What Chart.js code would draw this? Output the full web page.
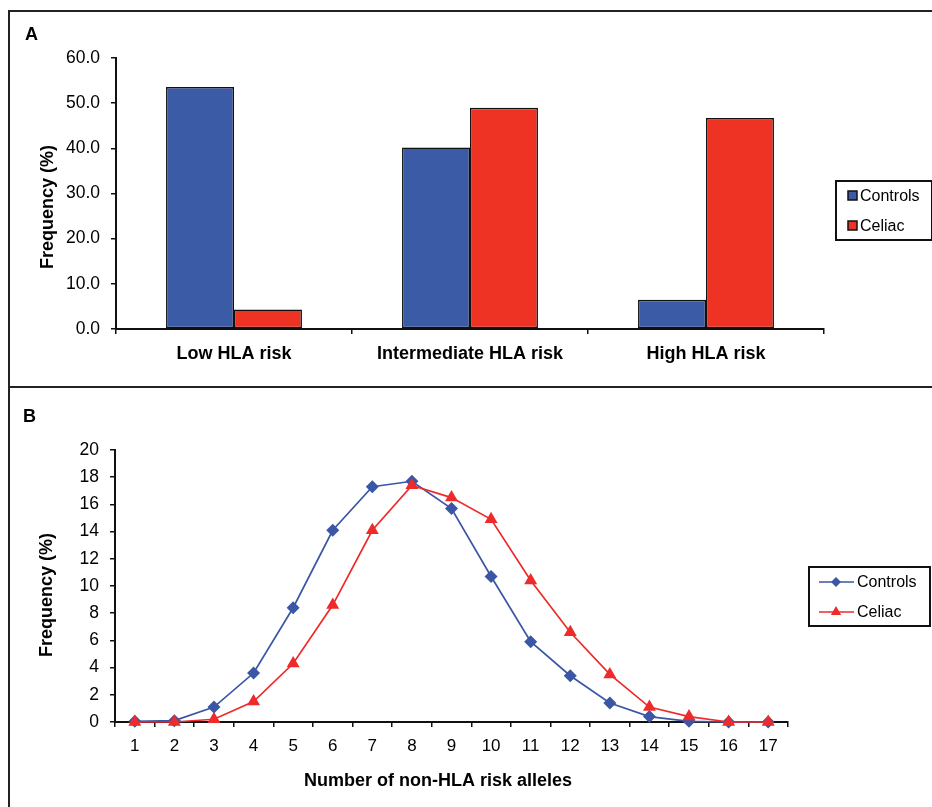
<!DOCTYPE html>
<html>
<head>
<meta charset="utf-8">
<title>HLA and non-HLA risk</title>
<script src="https://cdn.jsdelivr.net/npm/chart.js@4.4.1/dist/chart.umd.min.js"></script>
<style>
  body { margin: 0; background: #fff; }
  #page { position: relative; width: 932px; height: 807px; overflow: hidden; }
  .rule { position: absolute; background: #222; }
  canvas { position: absolute; left: 0; }
</style>
</head>
<body>
<div id="page">
  <div class="rule" style="left:8px; top:10px; width:924px; height:2px;"></div>
  <div class="rule" style="left:8px; top:10px; width:2px; height:797px;"></div>
  <div class="rule" style="left:8px; top:386px; width:924px; height:2px;"></div>
  <canvas id="chartA" width="932" height="386" style="top:0"></canvas>
  <canvas id="chartB" width="932" height="419" style="top:388px"></canvas>
</div>
<script>
// ── Data ──────────────────────────────────────────────────────
const hlaGroups      = ['Low HLA risk', 'Intermediate HLA risk', 'High HLA risk'];
const hlaControls    = [53.6, 40.2, 6.5];
const hlaCeliac      = [4.3, 49.0, 46.7];

const alleleCounts   = ['1','2','3','4','5','6','7','8','9','10','11','12','13','14','15','16','17'];
const alleleControls = [0.05, 0.1, 1.1, 3.6, 8.4, 14.1, 17.3, 17.7, 15.7, 10.7, 5.9, 3.4, 1.4, 0.4, 0.05, 0, 0];
const alleleCeliac   = [0, 0, 0.2, 1.5, 4.3, 8.6, 14.1, 17.4, 16.5, 14.9, 10.4, 6.6, 3.5, 1.1, 0.4, 0, 0];

const BLUE = '#3c5ba6';
const RED  = '#ee3224';
const INK  = '#111';
const FONT = '"Liberation Sans", Arial, sans-serif';

// ── Captions + boxed legend (drawn on the canvas) ─────────────
const decorPlugin = {
    id: 'decor',
    afterDraw(chart, args, opts) {
        const ctx = chart.ctx;
        ctx.save();
        ctx.fillStyle = '#000';
        (opts.captions || []).forEach(c => {
            ctx.save();
            ctx.font = c.font;
            ctx.translate(c.x, c.y);
            if (c.rotate) ctx.rotate(c.rotate);
            ctx.textAlign = c.align || 'left';
            ctx.textBaseline = c.baseline || 'alphabetic';
            ctx.fillText(c.text, 0, 0);
            ctx.restore();
        });

        const lg = opts.legend;
        if (lg) {
            ctx.lineWidth = 2;
            ctx.strokeStyle = INK;
            ctx.strokeRect(lg.x, lg.y, lg.w, lg.h);
            ctx.font = '16px ' + FONT;
            ctx.textBaseline = 'middle';
            ctx.textAlign = 'left';
            chart.data.datasets.forEach((ds, i) => {
                const ry = lg.rows[i];
                if (lg.kind === 'bar') {
                    ctx.fillStyle = ds.backgroundColor;
                    ctx.fillRect(lg.x + 12, ry - 5, 9, 9);
                    ctx.lineWidth = 1.5;
                    ctx.strokeStyle = INK;
                    ctx.strokeRect(lg.x + 12, ry - 5, 9, 9);
                } else {
                    ctx.strokeStyle = ds.borderColor;
                    ctx.lineWidth = ds.borderWidth;
                    ctx.beginPath();
                    ctx.moveTo(lg.x + 10, ry);
                    ctx.lineTo(lg.x + 45, ry);
                    ctx.stroke();
                    ctx.fillStyle = ds.pointBackgroundColor;
                    ctx.strokeStyle = ds.pointBackgroundColor;
                    Chart.helpers.drawPoint(ctx, {
                        pointStyle: ds.pointStyle, radius: ds.pointRadius - 1.5, rotation: 0, borderWidth: 0
                    }, lg.x + 27, ry);
                }
                ctx.fillStyle = '#000';
                ctx.fillText(ds.label, lg.textX, ry + 1);
            });
        }
        ctx.restore();
    }
};

function axisGrid() {
    return { drawOnChartArea: false, drawTicks: true, tickLength: 5, color: INK, lineWidth: 1.5 };
}

// ── Panel A: grouped bars ─────────────────────────────────────
new Chart(document.getElementById('chartA'), {
    type: 'bar',
    data: {
        labels: hlaGroups,
        datasets: [
            { label: 'Controls', data: hlaControls, backgroundColor: BLUE, borderColor: INK, borderWidth: 1.5, borderSkipped: false },
            { label: 'Celiac',   data: hlaCeliac,   backgroundColor: RED,  borderColor: INK, borderWidth: 1.5, borderSkipped: false }
        ]
    },
    options: {
        responsive: false,
        animation: false,
        categoryPercentage: 0.576,
        barPercentage: 1,
        layout: { padding: { left: 0, right: 108, top: 58, bottom: 16 } },
        plugins: {
            legend: { display: false },
            tooltip: { enabled: false },
            decor: {
                captions: [
                    { text: 'A', x: 25, y: 40, font: 'bold 18px ' + FONT },
                    { text: 'Frequency (%)', x: 48, y: 207, rotate: -Math.PI / 2, align: 'center', baseline: 'middle', font: 'bold 18px ' + FONT }
                ],
                legend: { kind: 'bar', x: 836, y: 181, w: 96, h: 59, rows: [196, 226], textX: 860 }
            }
        },
        scales: {
            x: {
                grid: Object.assign(axisGrid(), { offset: true }),
                border: { color: INK, width: 2 },
                ticks: { color: '#000', padding: 9, font: { family: FONT, size: 18, weight: 'bold' } },
                afterFit: s => { s.height = 41; }
            },
            y: {
                min: 0, max: 60,
                grid: axisGrid(),
                border: { color: INK, width: 2 },
                ticks: { stepSize: 10, color: '#000', padding: 11, font: { family: FONT, size: 17.5 },
                         callback: v => Number(v).toFixed(1) },
                afterFit: s => { s.width = 116; }
            }
        }
    },
    plugins: [decorPlugin]
});

// ── Panel B: allele distribution lines ────────────────────────
// Celiac gets the lower `order` so its triangles sit on top, as in the original
new Chart(document.getElementById('chartB'), {
    type: 'line',
    data: {
        labels: alleleCounts,
        datasets: [
            { label: 'Controls', data: alleleControls, order: 1, clip: false,
              borderColor: '#3a56a5', borderWidth: 1.7, tension: 0,
              pointStyle: 'rectRot', pointRadius: 6.5, pointBackgroundColor: '#3a56a5', pointBorderColor: '#3a56a5', pointBorderWidth: 0 },
            { label: 'Celiac',   data: alleleCeliac, order: 0, clip: false,
              borderColor: '#ee2a2a', borderWidth: 1.7, tension: 0,
              pointStyle: 'triangle', pointRadius: 7.5, pointBackgroundColor: '#ee2a2a', pointBorderColor: '#ee2a2a', pointBorderWidth: 0 }
        ]
    },
    options: {
        responsive: false,
        animation: false,
        layout: { padding: { left: 0, right: 144, top: 62, bottom: 44 } },
        plugins: {
            legend: { display: false },
            tooltip: { enabled: false },
            decor: {
                captions: [
                    { text: 'B', x: 23, y: 34, font: 'bold 18px ' + FONT },
                    { text: 'Frequency (%)', x: 47, y: 207, rotate: -Math.PI / 2, align: 'center', baseline: 'middle', font: 'bold 18px ' + FONT },
                    { text: 'Number of non-HLA risk alleles', x: 438, y: 398, align: 'center', font: 'bold 18px ' + FONT }
                ],
                legend: { kind: 'line', x: 809, y: 179, w: 121, h: 59, rows: [194, 224], textX: 857 }
            }
        },
        scales: {
            x: {
                offset: true,
                grid: Object.assign(axisGrid(), { offset: true }),
                border: { color: INK, width: 2 },
                ticks: { color: '#000', padding: 9, font: { family: FONT, size: 17 } },
                afterFit: s => { s.height = 41; }
            },
            y: {
                min: 0, max: 20,
                grid: axisGrid(),
                border: { color: INK, width: 2 },
                ticks: { stepSize: 2, color: '#000', padding: 11, font: { family: FONT, size: 17.5 } },
                afterFit: s => { s.width = 115; }
            }
        }
    },
    plugins: [decorPlugin]
});
</script>
</body>
</html>
